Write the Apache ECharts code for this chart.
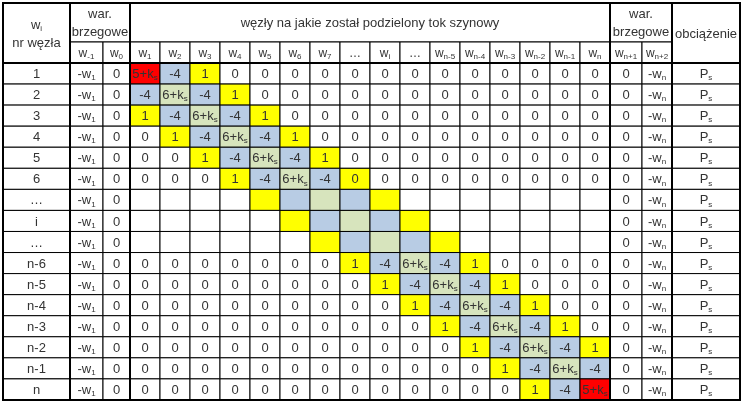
<!DOCTYPE html><html><head><meta charset="utf-8">
<script src="https://cdn.jsdelivr.net/npm/echarts@6/dist/echarts.min.js"></script>
<style>html,body{margin:0;background:#fff}#c{width:744px;height:404px}</style></head><body><div id="c"></div>
<script>
const rowLabels=['1','2','3','4','5','6','…','i','…','n-6','n-5','n-4','n-3','n-2','n-1','n'];
const colLabels=['w_{1}','w_{2}','w_{3}','w_{4}','w_{5}','w_{6}','w_{7}','…','w_{i}','…','w_{n-5}','w_{n-4}','w_{n-3}','w_{n-2}','w_{n-1}','w_{n}'];
const leftLabels=['w_{-1}','w_{0}'];
const rightLabels=['w_{n+1}','w_{n+2}'];
const leftValues=['-w_{1}','0'];
const rightValues=['0','-w_{n}'];
const loadValue='P_{s}';
const K='6+k_{s}',E='5+k_{s}';
// cell texts of the main matrix (16 rows x 16 columns)
const matrix=[
[E,'-4','1','0','0','0','0','0','0','0','0','0','0','0','0','0'],
['-4',K,'-4','1','0','0','0','0','0','0','0','0','0','0','0','0'],
['1','-4',K,'-4','1','0','0','0','0','0','0','0','0','0','0','0'],
['0','1','-4',K,'-4','1','0','0','0','0','0','0','0','0','0','0'],
['0','0','1','-4',K,'-4','1','0','0','0','0','0','0','0','0','0'],
['0','0','0','1','-4',K,'-4','0','0','0','0','0','0','0','0','0'],
['','','','','','','','','','','','','','','',''],
['','','','','','','','','','','','','','','',''],
['','','','','','','','','','','','','','','',''],
['0','0','0','0','0','0','0','1','-4',K,'-4','1','0','0','0','0'],
['0','0','0','0','0','0','0','0','1','-4',K,'-4','1','0','0','0'],
['0','0','0','0','0','0','0','0','0','1','-4',K,'-4','1','0','0'],
['0','0','0','0','0','0','0','0','0','0','1','-4',K,'-4','1','0'],
['0','0','0','0','0','0','0','0','0','0','0','1','-4',K,'-4','1'],
['0','0','0','0','0','0','0','0','0','0','0','0','1','-4',K,'-4'],
['0','0','0','0','0','0','0','0','0','0','0','0','0','1','-4',E]];
// colour codes: r red, b blue, g green, y yellow, . white
const colours=[
'rby.............',
'bgby............',
'ybgby...........',
'.ybgby..........',
'..ybgby.........',
'...ybgby........',
'....ybgby.......',
'.....ybgby......',
'......ybgby.....',
'.......ybgby....',
'........ybgby...',
'.........ybgby..',
'..........ybgby.',
'...........ybgby',
'............ybgb',
'.............ybr'];
const palette={r:'#FF0000',b:'#B8CCE4',g:'#D7E4BD',y:'#FFFF00','.':'#FFFFFF'};

// layout
const colEdges=[3,70,103,130];for(let i=1;i<=16;i++)colEdges.push(130+30*i);colEdges.push(642,672,740);
const rowEdges=[63];for(let i=1;i<=16;i++)rowEdges.push(63+21.06*i);
const H1=3,H2=42;
function rich(t){return t.replace(/_\{([^}]*)\}/g,'{s|$1}');}
const cells=[];// [x0,x1,y0,y1,text,fill,size]
cells.push([3,70,H1,63,'w{s|i}\nnr węzła','#fff',13]);
cells.push([70,130,H1,H2,'war.\nbrzegowe','#fff',13]);
cells.push([130,610,H1,H2,'węzły na jakie został podzielony tok szynowy','#fff',13]);
cells.push([610,672,H1,H2,'war.\nbrzegowe','#fff',13]);
cells.push([672,740,H1,63,'obciążenie','#fff',13]);
const hdr=[...leftLabels,...colLabels,...rightLabels];
hdr.forEach((t,i)=>cells.push([colEdges[i+1],colEdges[i+2],H2,63,rich(t),'#fff',12]));
rowLabels.forEach((lab,r)=>{
  const y0=rowEdges[r],y1=rowEdges[r+1];
  cells.push([3,70,y0,y1,lab,'#fff',13]);
  leftValues.forEach((v,i)=>cells.push([colEdges[1+i],colEdges[2+i],y0,y1,rich(v),'#fff',13]));
  matrix[r].forEach((v,c)=>cells.push([colEdges[3+c],colEdges[4+c],y0,y1,rich(v),palette[colours[r][c]],13]));
  rightValues.forEach((v,i)=>cells.push([colEdges[19+i],colEdges[20+i],y0,y1,rich(v),'#fff',13]));
  cells.push([672,740,y0,y1,rich(loadValue),'#fff',13]);
});
const chart=echarts.init(document.getElementById('c'));
const ys=rowEdges[16];
const frames=[[3,740,H1,ys],[70,70,H1,ys],[130,130,H1,ys],[610,610,H1,ys],[672,672,H1,ys],[3,740,63,63]];
chart.setOption({animation:false,
 grid:{left:0,right:0,top:0,bottom:0},
 xAxis:{type:'value',min:0,max:744,show:false},
 yAxis:{type:'value',min:0,max:404,inverse:true,show:false},
 series:[{type:'custom',coordinateSystem:'cartesian2d',data:cells,
  renderItem:(p,api)=>{
   const d=cells[p.dataIndex];
   const a=api.coord([d[0],d[2]]),b=api.coord([d[1],d[3]]);
   return {type:'group',children:[
    {type:'rect',shape:{x:a[0],y:a[1],width:b[0]-a[0],height:b[1]-a[1]},style:{fill:d[5],stroke:'#000',lineWidth:1}},
    {type:'text',style:{x:(a[0]+b[0])/2,y:(a[1]+b[1])/2+1,text:d[4],align:'center',verticalAlign:'middle',
      fontFamily:'Liberation Sans',fontSize:d[6],fill:'#333',lineHeight:18,
      rich:{s:{fontSize:8,fontFamily:'Liberation Sans',fill:'#333',padding:[7,0,0,0]}}}}]};
  }},
  {type:'custom',coordinateSystem:'cartesian2d',data:frames,z:5,
   renderItem:(p,api)=>{const d=frames[p.dataIndex];
    const a=api.coord([d[0],d[2]]),b=api.coord([d[1],d[3]]);
    return {type:'rect',shape:{x:a[0],y:a[1],width:b[0]-a[0],height:b[1]-a[1]},style:{fill:'none',stroke:'#000',lineWidth:2}};}}]
});
</script></body></html>
